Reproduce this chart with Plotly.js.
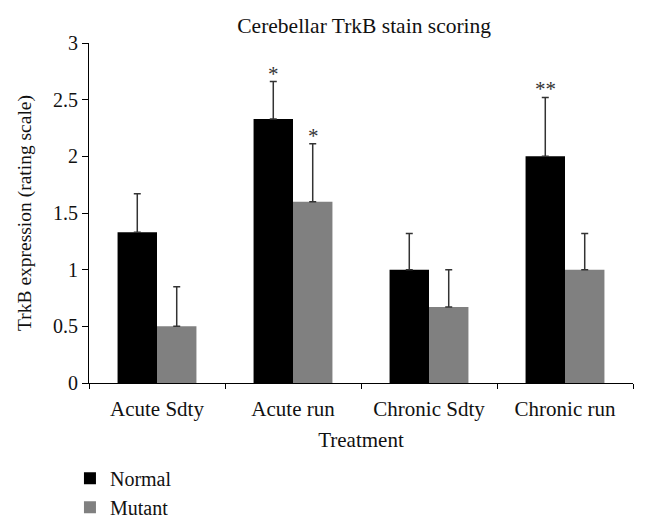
<!DOCTYPE html>
<html>
<head>
<meta charset="utf-8">
<script src="https://cdn.plot.ly/plotly-3.0.1.min.js"></script>
<style>html,body{margin:0;padding:0;background:#fff;}#chart{width:648px;height:526px;}</style>
</head>
<body>
<div id="chart"></div>
<script>
const categories = ["Acute Sdty", "Acute run", "Chronic Sdty", "Chronic run"];
const normalValues = [1.33, 2.33, 1.0, 2.0];
const normalErrors = [0.34, 0.33, 0.32, 0.52];
const mutantValues = [0.5, 1.6, 0.67, 1.0];
const mutantErrors = [0.35, 0.51, 0.33, 0.32];
const normalMarks = ["", "*", "", "**"];
const mutantMarks = ["", "*", "", ""];
const yTicks = [0, 0.5, 1, 1.5, 2, 2.5, 3];
const yTickText = ["0", "0.5", "1", "1.5", "2", "2.5", "3"];

const FONT = "Liberation Serif, Times New Roman, serif";

const errStyle = {type: "data", symmetric: false, arrayminus: [0,0,0,0], color: "#333", thickness: 1.5, width: 3.5};

const traces = [
  {type: "bar", name: "Normal", x: categories, y: normalValues,
   marker: {color: "#000000"},
   error_y: Object.assign({}, errStyle, {array: normalErrors})},
  {type: "bar", name: "Mutant", x: categories, y: mutantValues,
   marker: {color: "#808080"},
   error_y: Object.assign({}, errStyle, {array: mutantErrors})}
];

const annotations = [];
categories.forEach((c, i) => {
  if (normalMarks[i]) annotations.push({x: c, y: normalValues[i] + normalErrors[i], xref: "x", yref: "y",
    text: normalMarks[i], showarrow: false, xshift: -20, yanchor: "bottom", yshift: -6,
    font: {family: FONT, size: 21, color: "#333"}});
  if (mutantMarks[i]) annotations.push({x: c, y: mutantValues[i] + mutantErrors[i], xref: "x", yref: "y",
    text: mutantMarks[i], showarrow: false, xshift: 20, yanchor: "bottom", yshift: -6,
    font: {family: FONT, size: 21, color: "#333"}});
});

const layout = {
  width: 648, height: 526,
  margin: {l: 89, r: 15, t: 43, b: 143, autoexpand: false},
  paper_bgcolor: "#fff", plot_bgcolor: "#fff",
  font: {family: FONT, size: 21, color: "#111"},
  title: {text: "Cerebellar TrkB stain scoring", x: 0.562, xanchor: "center", y: 0.952, yanchor: "middle",
          font: {family: FONT, size: 21.5, color: "#111"}},
  barmode: "group", bargap: 0.42, bargroupgap: 0,
  showlegend: true,
  legend: {orientation: "v", x: -0.035, xanchor: "left", yref: "container", y: 0.128, yanchor: "top",
           font: {family: FONT, size: 20, color: "#111"}, tracegroupgap: 0, itemwidth: 30},
  xaxis: {type: "category", showline: true, linecolor: "#000", linewidth: 1,
          ticks: "outside", tickson: "boundaries", ticklen: 5, tickcolor: "#000",
          ticklabelstandoff: 7,
          showgrid: false, zeroline: false,
          tickfont: {family: FONT, size: 21, color: "#111"},
          title: {text: "Treatment", font: {family: FONT, size: 21, color: "#111"}, standoff: 12}},
  yaxis: {range: [0, 3], tickvals: yTicks, ticktext: yTickText, showline: true, linecolor: "#000", linewidth: 1,
          ticks: "outside", ticklen: 6, tickcolor: "#000", showgrid: false, zeroline: false,
          tickfont: {family: FONT, size: 20, color: "#111"},
          title: {text: "TrkB expression (rating scale)", font: {family: FONT, size: 19.5, color: "#111"}, standoff: 16}},
  annotations: annotations
};

Plotly.newPlot("chart", traces, layout, {displayModeBar: false, staticPlot: true});
</script>
</body>
</html>
